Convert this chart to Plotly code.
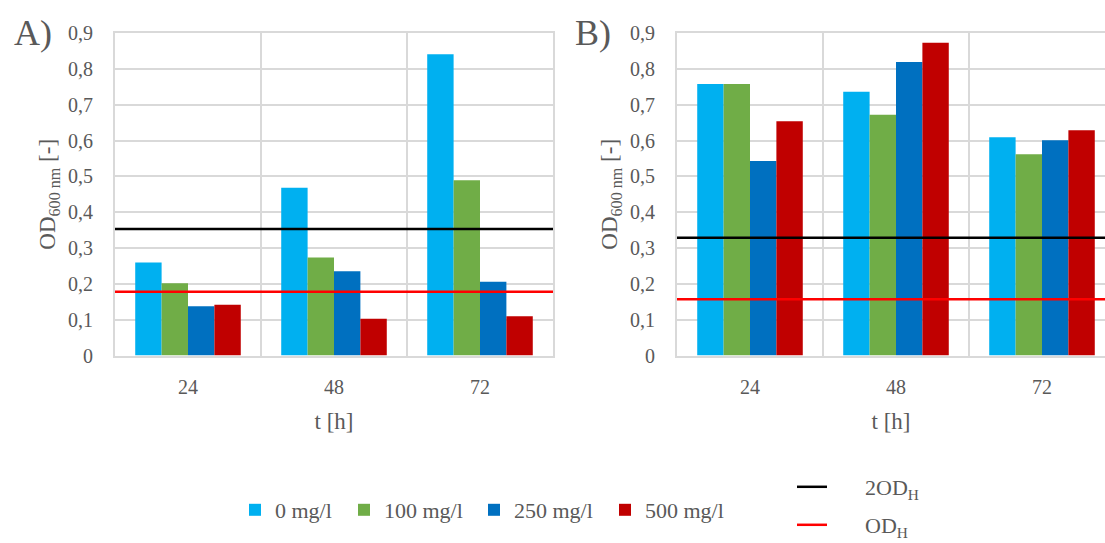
import plotly.graph_objects as go

# ---------------- data ----------------
times = ["24", "48", "72"]
series_names = ["0 mg/l", "100 mg/l", "250 mg/l", "500 mg/l"]
series_colors = ["#00B0F0", "#70AD47", "#0070C0", "#C00000"]

a_0 = [0.260, 0.468, 0.841]
a_100 = [0.202, 0.274, 0.489]
a_250 = [0.138, 0.235, 0.206]
a_500 = [0.142, 0.103, 0.110]

b_0 = [0.758, 0.736, 0.609]
b_100 = [0.758, 0.672, 0.562]
b_250 = [0.543, 0.819, 0.601]
b_500 = [0.654, 0.873, 0.629]

a_2odh = 0.353
a_odh = 0.178
b_2odh = 0.329
b_odh = 0.157

line_names = ["2OD<sub>H</sub>", "OD<sub>H</sub>"]
line_colors = ["#000000", "#FF0000"]

# ---------------- figure ----------------
W, H = 1105, 543
GREY = "#595959"
GRID = "#D9D9D9"
FONT = "Liberation Serif"

fig = go.Figure()

panel_a = [a_0, a_100, a_250, a_500]
panel_b = [b_0, b_100, b_250, b_500]
legend_ids = ["legend", "legend2", "legend3", "legend4"]

for i, (name, col) in enumerate(zip(series_names, series_colors)):
    fig.add_trace(go.Bar(x=times, y=panel_a[i], name=name, marker_color=col,
                         marker_line_width=0, xaxis="x", yaxis="y",
                         legend=legend_ids[i], showlegend=True))
    fig.add_trace(go.Bar(x=times, y=panel_b[i], name=name, marker_color=col,
                         marker_line_width=0, xaxis="x2", yaxis="y2",
                         legend=legend_ids[i], showlegend=False))

# horizontal reference lines on hidden overlay axes spanning each panel
for vals, xa, ya, show in [((a_2odh, a_odh), "x3", "y", True),
                           ((b_2odh, b_odh), "x4", "y2", False)]:
    for j, v in enumerate(vals):
        fig.add_trace(go.Scatter(x=[0, 1], y=[v, v], mode="lines",
                                 name="\u00a0" * 6 + line_names[j],
                                 line=dict(color=line_colors[j], width=2.5),
                                 xaxis=xa, yaxis=ya,
                                 legend="legend5" if j == 0 else "legend6",
                                 showlegend=show, hoverinfo="skip"))

# geometry (pixels)
A_L, A_R = 115, 553
B_L, B_R = 677, 1105
P_T, P_B = 33, 355.6
cat_w = (A_R - A_L) / 3.0
b_span = (B_R - B_L) / cat_w

ydom = [(H - P_B) / H, (H - P_T) / H]

tickfont = dict(family=FONT, size=20, color=GREY)
titlefont = dict(family=FONT, size=23, color=GREY)

def xaxis_cfg(dom, rng, mirror):
    return dict(domain=dom, type="category", range=rng, tickson="boundaries",
                showgrid=True, gridcolor=GRID, gridwidth=2,
                showline=True, linecolor=GRID, linewidth=2, mirror=mirror,
                ticks="", tickfont=tickfont, ticklabelstandoff=12,
                automargin=False,
                title=dict(text="t [h]", font=titlefont, standoff=16))

def yaxis_cfg(anchor, mirror):
    return dict(domain=ydom, anchor=anchor, range=[0, 0.9], dtick=0.1,
                tick0=0, showgrid=True, gridcolor=GRID, gridwidth=2,
                zeroline=False, showline=True, linecolor=GRID, linewidth=2,
                mirror=mirror, ticks="", tickfont=tickfont,
                ticklabelstandoff=16, automargin=False,
                title=dict(text="OD<sub>600 nm</sub> [-]", font=titlefont,
                           standoff=6))

leg_common = dict(font=dict(family=FONT, size=22, color=GREY),
                  bgcolor="rgba(0,0,0,0)", yanchor="middle", xanchor="left",
                  orientation="h", itemclick=False, itemdoubleclick=False)

bar_leg_x = [235, 344, 474, 605]
bar_leg_y = 510
line_leg_x = 792
line_leg_y = [487, 525]

fig.update_layout(
    width=W, height=H,
    margin=dict(l=0, r=0, t=0, b=0, autoexpand=False),
    paper_bgcolor="white", plot_bgcolor="white",
    separators=", ",
    barmode="group", bargap=0.277, bargroupgap=0,
    xaxis=xaxis_cfg([A_L / W, A_R / W], [-0.5, 2.5], True),
    yaxis=yaxis_cfg("x", True),
    xaxis2=xaxis_cfg([B_L / W, 1.0], [-0.5, -0.5 + b_span], True),
    yaxis2=yaxis_cfg("x2", False),
    xaxis3=dict(overlaying="x", range=[0, 1], visible=False, anchor="y"),
    xaxis4=dict(overlaying="x2", range=[0, 1], visible=False, anchor="y2"),
    legend=dict(x=bar_leg_x[0] / W, y=(H - bar_leg_y) / H, **leg_common),
    legend2=dict(x=bar_leg_x[1] / W, y=(H - bar_leg_y) / H, **leg_common),
    legend3=dict(x=bar_leg_x[2] / W, y=(H - bar_leg_y) / H, **leg_common),
    legend4=dict(x=bar_leg_x[3] / W, y=(H - bar_leg_y) / H, **leg_common),
    legend5=dict(x=line_leg_x / W, y=(H - line_leg_y[0]) / H, **leg_common),
    legend6=dict(x=line_leg_x / W, y=(H - line_leg_y[1]) / H, **leg_common),
    annotations=[
        dict(text="A)", x=12 / W, y=(H - 33) / H, xref="paper", yref="paper",
             xanchor="left", yanchor="middle", showarrow=False,
             font=dict(family=FONT, size=36, color=GREY)),
        dict(text="B)", x=573 / W, y=(H - 33) / H, xref="paper", yref="paper",
             xanchor="left", yanchor="middle", showarrow=False,
             font=dict(family=FONT, size=36, color=GREY)),
    ],
)

fig.write_html("out.html")
